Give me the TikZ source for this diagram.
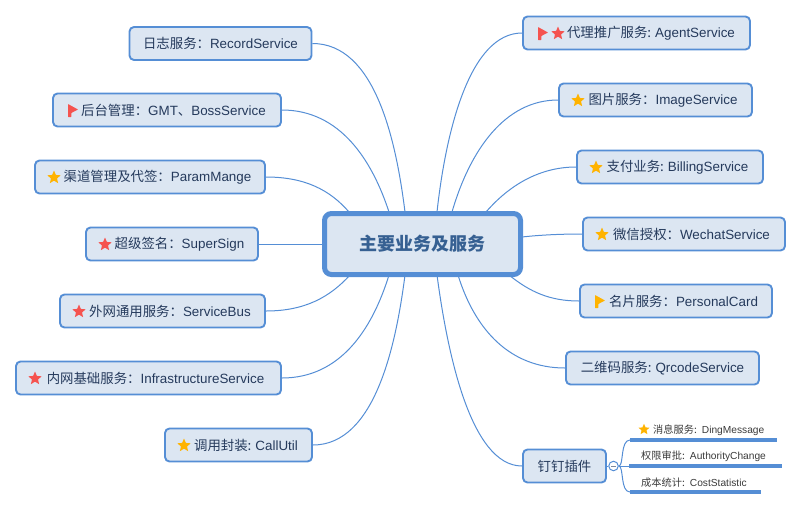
\documentclass[tikz,border=0pt]{standalone}
\usepackage{fontspec}
\setmainfont{Liberation Sans}
\newfontfamily\cjk{Noto Sans CJK SC}
\usetikzlibrary{shapes.geometric}
\definecolor{bd}{HTML}{558ED5}
\definecolor{fl}{HTML}{DCE6F2}
\definecolor{tx}{HTML}{253A5C}
\definecolor{stx}{HTML}{3A3A3A}
\definecolor{ctx}{HTML}{366092}
\definecolor{org}{HTML}{FFB300}
\definecolor{rd}{HTML}{F5534F}
\newcommand{\lbl}[2]{\raisebox{-0.8pt}{{\cjk #1}#2}}
\newcommand{\icn}[1]{\hspace*{#1pt}}
\tikzset{
  x=1pt,y=-1pt,
  topic/.style={draw=bd,fill=fl,line width=1.9pt,rounded corners=4.5pt,text=tx,font=\fontsize{13.4}{15}\selectfont,inner sep=0pt,minimum height=33pt,anchor=center},
  main/.style={draw=bd,fill=fl,line width=5pt,rounded corners=7pt,text=ctx,font=\cjk\bfseries\fontsize{18}{20}\selectfont,minimum width=196pt,minimum height=61pt,inner sep=0pt},
  sub/.style={text=stx,font=\fontsize{10.2}{12}\selectfont,inner sep=0pt,minimum height=19pt},
  subline/.style={bd,line width=3.2pt},
  link/.style={bd,line width=1pt},
  starr/.style={star,star points=5,star point ratio=2.2,fill=#1,inner sep=0pt,minimum size=14pt},
  flagg/.style={fill=#1,draw=none,rounded corners=0.4pt},
}
\begin{document}
\begin{tikzpicture}
\useasboundingbox (0,0) rectangle (802,509);
\coordinate (t1) at (349,212);\coordinate (t2) at (389,212);\coordinate (t3) at (405,212);
\coordinate (t4) at (437,212);\coordinate (t5) at (452,212);\coordinate (t6) at (486,212);
\coordinate (b1) at (350,275);\coordinate (b2) at (389,275);\coordinate (b3) at (405,275);
\coordinate (b4) at (437,275);\coordinate (b5) at (458,275);\coordinate (b6) at (509,275);
\coordinate (lm) at (324,244);\coordinate (rm) at (522,237);
\node[topic,minimum width=182pt] (n1) at (220.5,43.5) {\lbl{日志服务：}{RecordService}};
\node[topic,minimum width=228pt] (n2) at (167,110) {\icn{13}\lbl{后台管理：}{GMT}\lbl{、}{BossService}};
\node[topic,minimum width=230pt] (n3) at (150,177) {\icn{15}\lbl{渠道管理及代签：}{ParamMange}};
\node[topic,minimum width=172pt] (n4) at (172,244) {\icn{15}\lbl{超级签名：}{SuperSign}};
\node[topic,minimum width=205pt] (n5) at (162.5,311) {\icn{15}\lbl{外网通用服务：}{ServiceBus}};
\node[topic,minimum width=265pt] (n6) at (148.5,378) {\icn{14}\lbl{内网基础服务：}{InfrastructureService}};
\node[topic,minimum width=147pt] (n7) at (238.5,445) {\icn{15}\lbl{调用封装: }{CallUtil}};
\node[topic,minimum width=227pt] (m1) at (636.5,33) {\icn{29}\lbl{代理推广服务: }{AgentService}};
\node[topic,minimum width=193pt] (m2) at (655.5,100) {\icn{15}\lbl{图片服务：}{ImageService}};
\node[topic,minimum width=186pt] (m3) at (670,167) {\icn{15}\lbl{支付业务: }{BillingService}};
\node[topic,minimum width=202pt] (m4) at (684,234) {\icn{15}\lbl{微信授权：}{WechatService}};
\node[topic,minimum width=192pt] (m5) at (676,301) {\icn{15}\lbl{名片服务：}{PersonalCard}};
\node[topic,minimum width=193pt] (m6) at (662.5,368) {\lbl{二维码服务: }{QrcodeService}};
\node[topic,minimum width=83pt] (m7) at (564.5,466) {\lbl{钉钉插件}{}};
\draw[link] (n1.east) .. controls (375,43.5) and (396,140) .. (t3);
\draw[link] (n2.east) .. controls (340,110) and (372,160) .. (t2);
\draw[link] (n3.east) .. controls (305,177) and (330,190) .. (t1);
\draw[link] (n4.east) -- (lm);
\draw[link] (n5.east) .. controls (305,311) and (330,297) .. (b1);
\draw[link] (n6.east) .. controls (340,378) and (372,330) .. (b2);
\draw[link] (n7.east) .. controls (375,445) and (396,345) .. (b3);
\draw[link] (m1.west) .. controls (470,33) and (446,130) .. (t4);
\draw[link] (m2.west) .. controls (505,100) and (470,150) .. (t5);
\draw[link] (m3.west) .. controls (535,167) and (505,190) .. (t6);
\draw[link] (m4.west) .. controls (560,234) and (540,235) .. (rm);
\draw[link] (m5.west) .. controls (550,301) and (530,292) .. (b6);
\draw[link] (m6.west) .. controls (510,368) and (475,330) .. (b5);
\draw[link] (m7.west) .. controls (470,466) and (447,350) .. (b4);
\node[main] (c) at (422.5,244) {主要业务及服务};
% icons
\node[starr=org] (s3) at (54,177.5) {};
\node[starr=rd] (s4) at (105,244.5) {};
\node[starr=rd] (s5) at (79,311.5) {};
\node[starr=rd] (s6) at (35,378.5) {};
\node[starr=org] (s7) at (184,445.5) {};
\node[starr=rd] (sm1) at (558,33.5) {};
\node[starr=org] (sm2) at (578,100.5) {};
\node[starr=org] (sm3) at (596,167.5) {};
\node[starr=org] (sm4) at (602,234.5) {};
\fill[flagg=rd] (68,104) -- (78,109.5) -- (71.3,113) -- (71.3,117) -- (68,117) -- cycle;
\fill[flagg=rd] (538,27) -- (548,32.5) -- (541.3,36) -- (541.3,40) -- (538,40) -- cycle;
\fill[flagg=org] (595,295) -- (605,300.5) -- (598.3,304) -- (598.3,308) -- (595,308) -- cycle;
% sub topics
\node[sub,anchor=south west,minimum width=147pt,text width=147pt,align=left] (k1) at (630,440) {\icn{23}\lbl{消息服务: }{DingMessage}};
\node[sub,anchor=south west,minimum width=153pt,text width=153pt,align=left] (k2) at (629,466) {\icn{12}\lbl{权限审批: }{AuthorityChange}};
\node[sub,anchor=south west,minimum width=131pt,text width=131pt,align=left] (k3) at (630,492) {\icn{11}\lbl{成本统计: }{CostStatistic}};
\node[starr=org,minimum size=11.5pt] (sk) at (644,429.5) {};
\draw[subline] (k1.south west) -- (k1.south east);
\draw[subline] (k2.south west) -- (k2.south east);
\draw[subline] (k3.south west) -- (k3.south east);
\node[circle,draw=bd,fill=white,line width=1pt,minimum size=9.5pt,inner sep=0pt] (o) at (613.5,466) {};
\draw[link] (m7.east) -- (o.west);
\draw[link] (o.east) -- (k2.south west);
\draw[link] (o.east) .. controls (624,466) and (620,440) .. (k1.south west);
\draw[link] (o.east) .. controls (624,466) and (620,492) .. (k3.south west);
\draw[tx!60!white,line width=0.7pt] (o.center) ++(-2.5,0) -- ++(5,0);
\end{tikzpicture}
\end{document}
